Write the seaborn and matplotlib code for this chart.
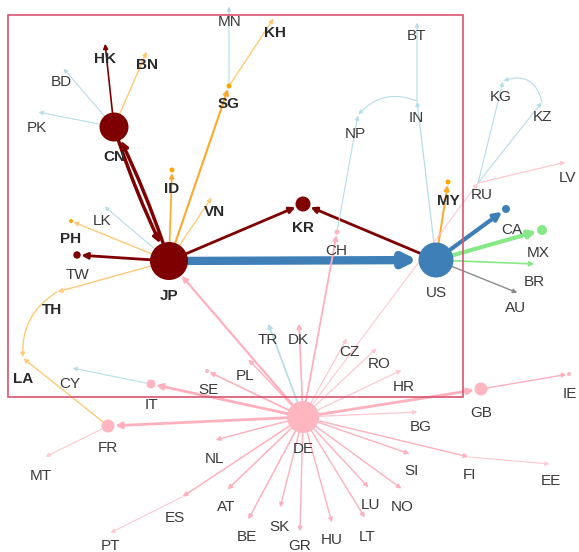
import seaborn as sns
import matplotlib.pyplot as plt
import matplotlib.patches as mpatches
import pandas as pd

# node layout (pixel space of the original drawing), label position, radius, group
node_names = ['JP', 'CN', 'KR', 'TW', 'US', 'CA', 'MX', 'DE', 'GB', 'FR', 'IT', 'CH', 'SE', 'IE',
              'SG', 'ID', 'MY', 'PH',
              'HK', 'BN', 'BD', 'PK', 'MN', 'KH', 'VN', 'LK', 'TH', 'LA', 'CY',
              'NP', 'IN', 'BT', 'RU', 'KG', 'KZ', 'LV', 'BR', 'AU',
              'TR', 'DK', 'PL', 'CZ', 'RO', 'HR', 'MT', 'NL', 'ES', 'PT', 'AT', 'BE', 'SK',
              'GR', 'HU', 'LT', 'LU', 'NO', 'SI', 'FI', 'EE', 'BG']
node_x = [169, 114, 303, 77, 436, 506, 542, 303, 481, 108, 151, 337, 207, 569,
          229, 172, 448, 71,
          105, 147, 63, 38, 229, 274, 212, 104, 57, 23, 72,
          358, 417, 417, 478, 503, 542, 566, 535, 518,
          268, 299, 248, 347, 377, 402, 45, 215, 182, 110, 227, 248, 280,
          300, 332, 365, 369, 402, 410, 469, 550, 418]
node_y = [261, 127, 204, 255, 260, 209, 230, 417, 389, 426, 384, 232, 371, 374,
          86, 170, 182, 221,
          43, 51, 68, 112, 6, 18, 197, 206, 292, 358, 368,
          115, 101, 22, 183, 81, 102, 162, 264, 293,
          323, 323, 359, 338, 348, 370, 457, 440, 497, 533, 490, 520, 508,
          532, 523, 518, 488, 489, 454, 457, 464, 412]
label_x = [169, 114, 303, 78, 436, 512, 538, 303, 481, 108, 151, 336, 208, 570,
           229, 172, 448, 71,
           105, 147, 61, 37, 230, 275, 214, 102, 52, 23, 70,
           355, 416, 417, 482, 501, 543, 568, 534, 516,
           268, 298, 245, 349, 379, 404, 41, 215, 175, 110, 226, 247, 279,
           300, 332, 367, 370, 402, 412, 469, 551, 421]
label_y = [296, 157, 228, 275, 293, 230, 253, 449, 413, 448, 405, 251, 390, 394,
           104, 189, 201, 239,
           59, 65, 82, 128, 22, 33, 212, 221, 310, 379, 384,
           134, 118, 36, 195, 97, 117, 178, 282, 308,
           340, 340, 376, 352, 364, 387, 476, 459, 518, 546, 507, 537, 527,
           546, 540, 537, 505, 507, 471, 475, 481, 427]
node_radius = [19, 14.5, 7.5, 3.7, 17.5, 4, 5, 16, 6.5, 6.5, 4.5, 2.5, 2, 2,
               2.5, 2.5, 2.5, 2] + [0] * 42
node_group = ['jp', 'jp', 'jp', 'jp', 'us', 'us', 'mx', 'de', 'de', 'de', 'de', 'de', 'de', 'de',
              'asean', 'asean', 'asean', 'asean'] + ['none'] * 42
bold_labels = ['JP', 'CN', 'KR', 'HK', 'BN', 'KH', 'SG', 'ID', 'VN', 'PH', 'TH', 'LA', 'MY']

# edges: source, target, weight, colour group, curvature
edge_src = ['JP', 'CN', 'JP', 'JP', 'US', 'JP', 'CN', 'CN', 'CN', 'CN', 'JP', 'SG', 'SG',
            'JP', 'JP', 'JP', 'JP', 'JP', 'TH', 'FR', 'DE', 'DE', 'CH', 'US', 'IN', 'IN',
            'US', 'DE', 'RU', 'RU', 'KZ', 'RU', 'US', 'US', 'US', 'US',
            'DE', 'DE', 'DE', 'DE', 'DE', 'DE', 'DE', 'DE', 'IT', 'DE', 'FR', 'DE', 'DE',
            'ES', 'DE', 'DE', 'DE', 'DE', 'DE', 'DE', 'DE', 'DE', 'DE', 'DE', 'FI', 'DE', 'GB',
            'DE']
edge_dst = ['CN', 'JP', 'US', 'KR', 'KR', 'TW', 'HK', 'BN', 'BD', 'PK', 'SG', 'KH', 'MN',
            'ID', 'VN', 'LK', 'PH', 'TH', 'LA', 'LA', 'JP', 'CH', 'NP', 'IN', 'BT', 'NP',
            'MY', 'RU', 'KG', 'KZ', 'KG', 'LV', 'CA', 'MX', 'BR', 'AU',
            'TR', 'DK', 'PL', 'SE', 'CZ', 'RO', 'HR', 'IT', 'CY', 'FR', 'MT', 'NL', 'ES',
            'PT', 'AT', 'BE', 'SK', 'GR', 'HU', 'LT', 'LU', 'NO', 'SI', 'FI', 'EE', 'BG', 'IE',
            'GB']
edge_weight = [2.5, 2.5, 6, 2, 2, 2, 1.2, 1, 0.8, 0.8, 1.5, 1, 0.8,
               1.2, 1, 0.8, 1, 1, 1, 1, 1.6, 1.3, 0.8, 0.9, 0.8, 0.8,
               1.4, 0.8, 0.8, 0.8, 0.8, 0.9, 3, 3, 1.2, 1,
               1.2, 1.2, 1, 1.2, 0.9, 0.9, 0.9, 2, 0.8, 2, 0.8, 1, 1.1,
               0.8, 1.1, 1.1, 1, 1, 1, 1, 1, 1, 1, 1, 0.8, 0.9, 1,
               2]
edge_group = ['jp', 'jp', 'us', 'jp', 'jp', 'jp', 'jp', 'orange_l', 'blue_l', 'blue_l', 'orange', 'orange_l', 'blue_l',
              'orange', 'orange_l', 'blue_l', 'orange_l', 'orange_l', 'orange_l', 'orange_l', 'de', 'de', 'blue_l', 'blue_l', 'blue_l', 'blue_l',
              'orange', 'de_l', 'blue_l', 'blue_l', 'blue_l', 'de_l', 'us', 'mx', 'mx', 'gray',
              'blue_l', 'de', 'de', 'de', 'de_l', 'de_l', 'de_l', 'de', 'blue_l', 'de', 'de_l', 'de', 'de',
              'de_l', 'de', 'de', 'de', 'de', 'de', 'de', 'de', 'de', 'de', 'de', 'de_l', 'de_l', 'de',
              'de']
edge_rad = [0.04, 0.04, 0, 0, 0, 0, 0, 0, 0, 0, 0, 0, 0,
            0, 0, 0, 0, 0, 0.3, 0, 0, 0, 0, 0, 0, 0.35,
            0, 0, 0, 0, 0.55, 0, 0, 0, 0, 0,
            0, 0, 0, 0, 0, 0, 0, 0, 0, 0, 0, 0, 0,
            0, 0, 0, 0, 0, 0, 0, 0, 0, 0, 0, 0, 0, 0,
            0]

node_palette = {'jp': '#7f0000', 'us': '#3f7fb8', 'mx': '#86e886', 'de': '#ffb6c1',
                'asean': '#ffa500', 'none': '#ffffff'}
edge_palette = {'jp': '#7f0000', 'us': '#3f7fb8', 'mx': '#86e886', 'de': '#ffb0bd',
                'de_l': '#ffc8d1', 'orange': '#ffa82a', 'orange_l': '#ffc978',
                'blue_l': '#b5dceb', 'gray': '#8a8a8a'}

nodes = pd.DataFrame({'name': node_names, 'x': node_x, 'y': node_y, 'lx': label_x, 'ly': label_y,
                      'r': node_radius, 'group': node_group})
nodes = nodes.set_index('name', drop=False)
edges = pd.DataFrame({'src': edge_src, 'dst': edge_dst, 'w': edge_weight,
                      'group': edge_group, 'rad': edge_rad})

sns.set_style('white')
plt.rcParams['font.family'] = ['Liberation Sans', 'DejaVu Sans']

fig = plt.figure(figsize=(5.79, 5.52), dpi=100)
ax = fig.add_axes([0, 0, 1, 1])

PT = 0.72  # px -> points at dpi 100

for _, e in edges.iterrows():
    s = nodes.loc[e['src']]
    d = nodes.loc[e['dst']]
    ax.annotate('', xy=(d['x'], d['y']), xytext=(s['x'], s['y']),
                arrowprops=dict(arrowstyle='-|>', color=edge_palette[e['group']],
                                lw=e['w'], shrinkA=s['r'] * PT, shrinkB=d['r'] * PT + 0.5,
                                mutation_scale=4 + 2.4 * e['w'],
                                connectionstyle=f"arc3,rad={e['rad']}"),
                zorder=1)

drawn = nodes[nodes['r'] > 0].copy()
drawn['s'] = (2 * drawn['r'] * PT) ** 2
sns.scatterplot(data=drawn, x='x', y='y', hue='group', palette=node_palette,
                s=drawn['s'].values, linewidth=0, legend=False, ax=ax, zorder=3)
ax.set_xlim(0, 579)
ax.set_ylim(552, 0)
ax.axis('off')

for _, n in nodes.iterrows():
    bold = n['name'] in bold_labels
    ax.text(n['lx'], n['ly'], n['name'], ha='center', va='center', fontsize=11,
            fontweight='bold' if bold else 'normal',
            color='#2a2a2a' if bold else '#3a3a3a', zorder=4)

ax.add_patch(mpatches.Rectangle((8, 15), 455, 382, fill=False, edgecolor='#d9546e',
                                lw=1.2, zorder=5))

fig.savefig('out.png', dpi=100)
